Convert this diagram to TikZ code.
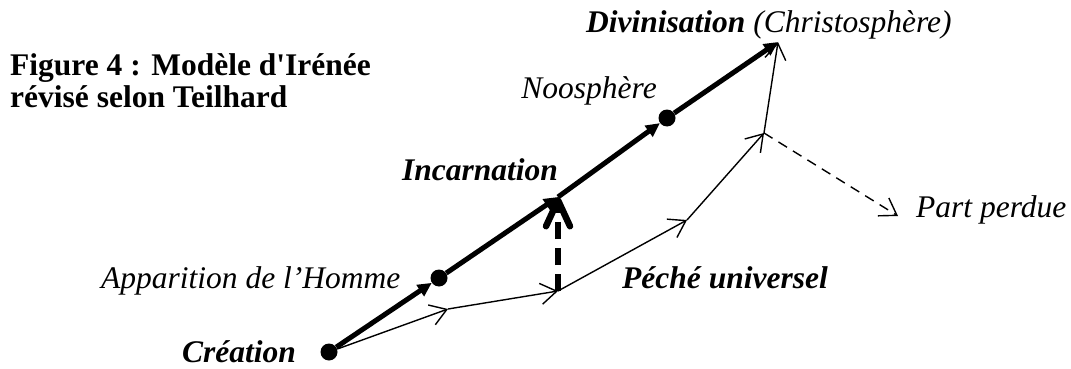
\documentclass[tikz,border=0pt]{standalone}
\usepackage{fontspec}
\setmainfont{Liberation Serif}
\usetikzlibrary{arrows.meta}
\begin{document}
\begin{tikzpicture}[x=1pt,y=-1pt,
  lbl/.style={font=\fontsize{31.5}{34}\selectfont\itshape, inner sep=0pt},
  blbl/.style={font=\fontsize{31.5}{34}\selectfont\bfseries\itshape, inner sep=0pt},
  ttl/.style={font=\fontsize{31.5}{34}\selectfont\bfseries, inner sep=0pt},
  dot/.style={circle, fill=black, minimum size=17pt, inner sep=0pt},
  thickline/.style={line width=5pt, -{Triangle[length=14pt,width=13pt]}},
  thinarrow/.style={line width=1.4pt, -{Straight Barb[length=16pt,width=21pt]}},
  lostarrow/.style={line width=1.4pt, dash pattern=on 10pt off 7pt, -{Straight Barb[length=16pt,width=21pt]}},
  graceline/.style={line width=6.5pt, dash pattern=on 17pt off 9pt, -{Straight Barb[round,length=26pt,width=24pt]}}]
\useasboundingbox (0,0) rectangle (1071,369);
% key points
\node[dot] (cre) at (329,352) {};
\node[dot] (app) at (439,278) {};
\coordinate (inc) at (558,197);
\node[dot] (noo) at (667,118) {};
\coordinate (div) at (778,42);
\coordinate (t1) at (448,309);
\coordinate (t2) at (558,291);
\coordinate (t3) at (687,220);
\coordinate (t4) at (764,133);
\coordinate (pp) at (898,216);
% thin (real) path
\draw[thinarrow] (cre) -- (t1);
\draw[thinarrow] (t1) -- (t2);
\draw[thinarrow] (t2) -- (t3);
\draw[thinarrow] (t3) -- (t4);
\draw[thinarrow] (t4) -- (div);
\draw[lostarrow] (t4) -- (pp);
% thick (ideal) path
\draw[thickline] (cre) -- (app);
\draw[thickline] (app) -- (inc);
\draw[thickline] (inc) -- (noo);
\draw[thickline] (noo) -- (div);
% incarnation arrow
\draw[graceline] (t2) -- (inc);
% labels
\node[ttl, anchor=base west] (title1) at (10,75) {Figure 4 : Modèle d{\addfontfeatures{Ligatures=TeXOff}'}Irénée};
\node[ttl, anchor=base west] (title2) at (10,107) {révisé selon Teilhard};
\node[blbl, anchor=base west] (crelbl) at (182,362) {Création};
\node[lbl, anchor=base west] (applbl) at (101,288) {Apparition de l’Homme};
\node[blbl, anchor=base west] (inclbl) at (402,180) {Incarnation};
\node[lbl, anchor=base east] (noolbl) at (657,99) {Noosphère};
\node[lbl, anchor=base west] (divlbl) at (586,33) {\bfseries Divinisation \mdseries(Christosphère)};
\node[blbl, anchor=base west] (peclbl) at (622,288) {Péché universel};
\node[lbl, anchor=base west] (pplbl) at (916,217) {Part perdue};
\end{tikzpicture}
\end{document}
